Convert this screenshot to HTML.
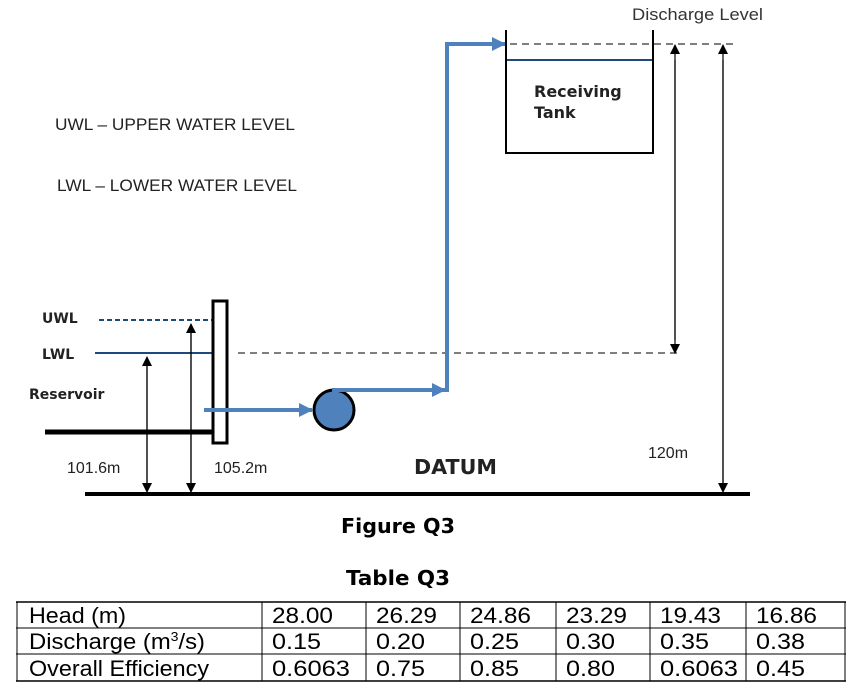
<!DOCTYPE html>
<html><head><meta charset="utf-8"><style>
html,body{margin:0;padding:0;background:#fff;}
svg{display:block;}
text{font-family:"Liberation Sans",sans-serif;}
.b{font-family:"DejaVu Sans","Liberation Sans",sans-serif;font-weight:bold;}
.v{font-family:"DejaVu Sans","Liberation Sans",sans-serif;}
</style></head><body>
<svg width="851" height="691" viewBox="0 0 851 691" xmlns="http://www.w3.org/2000/svg">
<defs>
<marker id="ah" markerWidth="10" markerHeight="10" refX="9" refY="5" orient="auto" markerUnits="userSpaceOnUse"><path d="M0,0 L10,5 L0,10 z" fill="#000"/></marker>
<marker id="bh" markerWidth="14" markerHeight="14" refX="13" refY="7" orient="auto" markerUnits="userSpaceOnUse"><path d="M0,0 L14,7 L0,14 z" fill="#4f81bd"/></marker>
</defs>
<text x="55" y="130" font-size="17" fill="#222" textLength="240" lengthAdjust="spacingAndGlyphs">UWL – UPPER WATER LEVEL</text>
<text x="57" y="191" font-size="17" fill="#222" textLength="240" lengthAdjust="spacingAndGlyphs">LWL – LOWER WATER LEVEL</text>
<text x="42" y="323" font-size="14" class="b" fill="#222">UWL</text>
<text x="42" y="359" font-size="14" class="b" fill="#222">LWL</text>
<text x="29" y="399" font-size="14" class="b" fill="#222">Reservoir</text>
<line x1="99" y1="320" x2="212" y2="320" stroke="#1f497d" stroke-width="2" stroke-dasharray="5,3"/>
<line x1="95" y1="353" x2="212" y2="353" stroke="#1f497d" stroke-width="2"/>
<line x1="238" y1="353" x2="680" y2="353" stroke="#333" stroke-width="1.2" stroke-dasharray="7,5"/>
<line x1="45" y1="432" x2="214" y2="432" stroke="#000" stroke-width="5"/>
<rect x="213" y="301" width="14" height="142" fill="#fff" stroke="#000" stroke-width="3"/>
<line x1="85" y1="494" x2="750" y2="494" stroke="#000" stroke-width="4"/>
<line x1="147" y1="490" x2="147" y2="357" stroke="#000" stroke-width="1.2" marker-end="url(#ah)"/>
<line x1="147" y1="360" x2="147" y2="492" stroke="#000" stroke-width="1.2" marker-end="url(#ah)"/>
<line x1="191" y1="490" x2="191" y2="324" stroke="#000" stroke-width="1.2" marker-end="url(#ah)"/>
<line x1="191" y1="330" x2="191" y2="492" stroke="#000" stroke-width="1.2" marker-end="url(#ah)"/>
<line x1="675" y1="340" x2="675" y2="45" stroke="#000" stroke-width="1.2" marker-end="url(#ah)"/>
<line x1="675" y1="60" x2="675" y2="353" stroke="#000" stroke-width="1.2" marker-end="url(#ah)"/>
<line x1="723" y1="490" x2="723" y2="45" stroke="#000" stroke-width="1.2" marker-end="url(#ah)"/>
<line x1="723" y1="60" x2="723" y2="492" stroke="#000" stroke-width="1.2" marker-end="url(#ah)"/>
<line x1="204" y1="410" x2="312" y2="410" stroke="#4f81bd" stroke-width="4" marker-end="url(#bh)"/>
<circle cx="334" cy="410" r="20" fill="#4f81bd" stroke="#000" stroke-width="3"/>
<polyline points="332,390 445,390" fill="none" stroke="#4f81bd" stroke-width="4" marker-end="url(#bh)"/>
<polyline points="447,392 447,44 505,44" fill="none" stroke="#4f81bd" stroke-width="4" marker-end="url(#bh)"/>
<polyline points="506,30 506,153 653,153 653,30" fill="none" stroke="#000" stroke-width="2"/>
<line x1="507" y1="60" x2="652" y2="60" stroke="#1f497d" stroke-width="2"/>
<line x1="510" y1="44" x2="735" y2="44" stroke="#333" stroke-width="1.2" stroke-dasharray="7,5"/>
<text x="534" y="97" font-size="16" class="b" fill="#222">Receiving</text>
<text x="534" y="118" font-size="16" class="b" fill="#222">Tank</text>
<text x="632" y="20" font-size="17" fill="#333" textLength="131" lengthAdjust="spacingAndGlyphs">Discharge Level</text>
<text x="67" y="473" font-size="16" fill="#222">101.6m</text>
<text x="214" y="473" font-size="16" fill="#222">105.2m</text>
<text x="414" y="474" font-size="20" class="b" fill="#222" textLength="83" lengthAdjust="spacingAndGlyphs">DATUM</text>
<text x="648" y="458" font-size="16" fill="#222">120m</text>
<text x="341" y="533" font-size="20" class="b" fill="#000" textLength="114" lengthAdjust="spacingAndGlyphs">Figure Q3</text>
<text x="346" y="585" font-size="20" class="b" fill="#000" textLength="104" lengthAdjust="spacingAndGlyphs">Table Q3</text>
<g stroke="#000" stroke-width="1">
<line x1="16" y1="602" x2="846" y2="602" stroke-width="1.5"/>
<line x1="16" y1="628" x2="846" y2="628"/>
<line x1="16" y1="654" x2="846" y2="654"/>
<line x1="16" y1="681" x2="846" y2="681" stroke-width="1.5"/>
<line x1="17" y1="602" x2="17" y2="681"/>
<line x1="262" y1="602" x2="262" y2="681"/>
<line x1="366" y1="602" x2="366" y2="681"/>
<line x1="460" y1="602" x2="460" y2="681"/>
<line x1="556" y1="602" x2="556" y2="681"/>
<line x1="650" y1="602" x2="650" y2="681"/>
<line x1="746" y1="602" x2="746" y2="681"/>
<line x1="845" y1="602" x2="845" y2="681"/>
</g>
<g font-size="22" class="v" fill="#000">
<text x="29" y="623" textLength="97" lengthAdjust="spacingAndGlyphs">Head (m)</text>
<text x="272" y="623" textLength="61" lengthAdjust="spacingAndGlyphs">28.00</text>
<text x="376" y="623" textLength="61" lengthAdjust="spacingAndGlyphs">26.29</text>
<text x="470" y="623" textLength="61" lengthAdjust="spacingAndGlyphs">24.86</text>
<text x="566" y="623" textLength="61" lengthAdjust="spacingAndGlyphs">23.29</text>
<text x="660" y="623" textLength="61" lengthAdjust="spacingAndGlyphs">19.43</text>
<text x="756" y="623" textLength="61" lengthAdjust="spacingAndGlyphs">16.86</text>
<text x="29" y="649" textLength="176" lengthAdjust="spacingAndGlyphs">Discharge (m<tspan font-size="13" dy="-8">3</tspan><tspan dy="8">/s)</tspan></text>
<text x="272" y="649" textLength="49" lengthAdjust="spacingAndGlyphs">0.15</text>
<text x="376" y="649" textLength="49" lengthAdjust="spacingAndGlyphs">0.20</text>
<text x="470" y="649" textLength="49" lengthAdjust="spacingAndGlyphs">0.25</text>
<text x="566" y="649" textLength="49" lengthAdjust="spacingAndGlyphs">0.30</text>
<text x="660" y="649" textLength="49" lengthAdjust="spacingAndGlyphs">0.35</text>
<text x="756" y="649" textLength="49" lengthAdjust="spacingAndGlyphs">0.38</text>
<text x="29" y="676" textLength="180" lengthAdjust="spacingAndGlyphs">Overall Efficiency</text>
<text x="272" y="676" textLength="78" lengthAdjust="spacingAndGlyphs">0.6063</text>
<text x="376" y="676" textLength="49" lengthAdjust="spacingAndGlyphs">0.75</text>
<text x="470" y="676" textLength="49" lengthAdjust="spacingAndGlyphs">0.85</text>
<text x="566" y="676" textLength="49" lengthAdjust="spacingAndGlyphs">0.80</text>
<text x="660" y="676" textLength="78" lengthAdjust="spacingAndGlyphs">0.6063</text>
<text x="756" y="676" textLength="49" lengthAdjust="spacingAndGlyphs">0.45</text>
</g>
</svg>
</body></html>
